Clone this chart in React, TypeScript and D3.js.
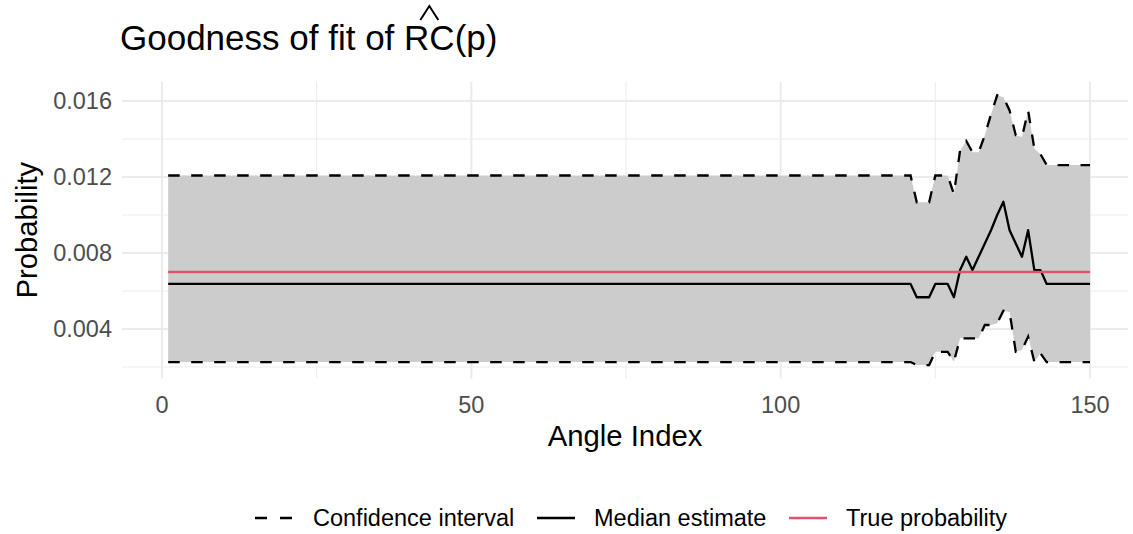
import React from "react";
import * as d3 from "d3";

// ---- Data (index 1..150) ----
const flatCount = 121; // indices 1..121 share the same values
const flatMedian = 0.00637;
const flatUpper = 0.01208;
const flatLower = 0.00226;
const trueProbability = 0.007;

// indices 122..150
const tailMedian = [
  0.00567, 0.00567, 0.00567, 0.00637, 0.00637, 0.00637, 0.00567, 0.0071, 0.0078, 0.0071,
  0.0078, 0.0085, 0.0092, 0.01, 0.0107, 0.0092, 0.0085, 0.0078, 0.0092, 0.0071,
  0.0071, 0.00637, 0.00637, 0.00637, 0.00637, 0.00637, 0.00637, 0.00637, 0.00637,
];
const tailUpper = [
  0.01067, 0.01067, 0.01067, 0.01208, 0.01208, 0.01208, 0.0111, 0.0134, 0.0139, 0.0133,
  0.0133, 0.0142, 0.0153, 0.0163, 0.0162, 0.0155, 0.0142, 0.0141, 0.0155, 0.0135,
  0.0132, 0.01263, 0.01263, 0.01263, 0.01263, 0.01263, 0.01263, 0.01263, 0.01263,
];
const tailLower = [
  0.0021, 0.0021, 0.0021, 0.0028, 0.0028, 0.0028, 0.00228, 0.00351, 0.00351, 0.00351,
  0.00351, 0.00421, 0.00421, 0.0043, 0.00496, 0.0049, 0.0028, 0.0029, 0.0036, 0.00228,
  0.00272, 0.00226, 0.00226, 0.00226, 0.00226, 0.00226, 0.00226, 0.00226, 0.00226,
];

const median = [...new Array(flatCount).fill(flatMedian), ...tailMedian];
const upper = [...new Array(flatCount).fill(flatUpper), ...tailUpper];
const lower = [...new Array(flatCount).fill(flatLower), ...tailLower];
const indices = median.map((_, i) => i + 1);

const xTicks = [0, 50, 100, 150];
const xMinor = [25, 75, 125];
const yTicks = [0.004, 0.008, 0.012, 0.016];
const yMinor = [0.002, 0.006, 0.01, 0.014];
const legendLabels = ["Confidence interval", "Median estimate", "True probability"];

const W = 1133;
const H = 534;
const FONT = "'Liberation Sans', Arial, Helvetica, sans-serif";
const RED = "#DF536B";
const GRID = "#ebebeb";

export default function App() {
  const panelLeft = 122;
  const panelRight = 1128;
  const x = d3.scaleLinear().domain([0, 150]).range([162, 1090]);
  const y = d3.scaleLinear().domain([0.004, 0.016]).range([329, 101]);
  const yMinAll = d3.min(lower)!;
  const yMaxAll = d3.max(upper)!;
  const pad = (yMaxAll - yMinAll) * 0.05;
  const panelTop = y(yMaxAll + pad);
  const panelBottom = y(yMinAll - pad);

  const rows = indices.map((d, i) => ({ i: d, m: median[i], u: upper[i], l: lower[i] }));
  const area = d3
    .area<any>()
    .x((d) => x(d.i))
    .y0((d) => y(d.l))
    .y1((d) => y(d.u));
  const line = (acc: (d: any) => number) =>
    d3
      .line<any>()
      .x((d) => x(d.i))
      .y((d) => y(acc(d)))(rows) as string;

  const dash = "11.5 11.5";
  const lw = 2.3;

  const titleX = 120;
  const titleBase = 50;
  const titleSize = 35;
  const prefix = "Goodness of fit of ";
  // Arial metrics approximation for prefix width
  const prefixW = 8.116 * titleSize;
  const rcW = 1.444 * titleSize;
  const hatCx = titleX + prefixW + rcW / 2;

  const legY = 518;

  return (
    <svg
      width={W}
      height={H}
      style={{ display: "block", background: "#fff", position: "absolute", left: 0, top: 0 }}
      fontFamily={FONT}
    >
      {/* grid */}
      {yMinor.map((v) => (
        <line key={"ym" + v} x1={panelLeft} x2={panelRight} y1={y(v)} y2={y(v)} stroke={GRID} strokeWidth={1} />
      ))}
      {xMinor.map((v) => (
        <line key={"xm" + v} x1={x(v)} x2={x(v)} y1={panelTop} y2={panelBottom} stroke={GRID} strokeWidth={1} />
      ))}
      {yTicks.map((v) => (
        <line key={"yg" + v} x1={panelLeft} x2={panelRight} y1={y(v)} y2={y(v)} stroke={GRID} strokeWidth={2} />
      ))}
      {xTicks.map((v) => (
        <line key={"xg" + v} x1={x(v)} x2={x(v)} y1={panelTop} y2={panelBottom} stroke={GRID} strokeWidth={2} />
      ))}

      {/* ribbon */}
      <path d={area(rows) as string} fill="#cccccc" />
      {/* CI lines */}
      <path d={line((d) => d.u)} fill="none" stroke="#000" strokeWidth={lw} strokeDasharray={dash} />
      <path d={line((d) => d.l)} fill="none" stroke="#000" strokeWidth={lw} strokeDasharray={dash} />
      {/* median */}
      <path d={line((d) => d.m)} fill="none" stroke="#000" strokeWidth={lw} strokeLinejoin="round" />
      {/* true probability */}
      <line x1={x(indices[0])} x2={x(indices[indices.length - 1])} y1={y(trueProbability)} y2={y(trueProbability)} stroke={RED} strokeWidth={lw} />

      {/* y tick labels */}
      {yTicks.map((v) => (
        <text key={"yl" + v} x={112} y={y(v)} dy="0.35em" textAnchor="end" fontSize={23.5} fill="#4d4d4d">
          {d3.format(".3f")(v)}
        </text>
      ))}
      {/* x tick labels */}
      {xTicks.map((v) => (
        <text key={"xl" + v} x={x(v)} y={413} textAnchor="middle" fontSize={23.5} fill="#4d4d4d">
          {v}
        </text>
      ))}

      {/* axis titles */}
      <text x={(panelLeft + panelRight) / 2} y={446} textAnchor="middle" fontSize={29.3} fill="#000">
        Angle Index
      </text>
      <text transform={`translate(37, ${(panelTop + panelBottom) / 2}) rotate(-90)`} textAnchor="middle" fontSize={29.3} fill="#000">
        Probability
      </text>

      {/* title */}
      <text x={titleX} y={titleBase} fontSize={titleSize} fill="#000">
        {prefix}
        <tspan>RC</tspan>
        <tspan>(p)</tspan>
      </text>
      <path
        d={`M${hatCx - 9},${titleBase - 30} L${hatCx},${titleBase - 44} L${hatCx + 9},${titleBase - 30}`}
        fill="none"
        stroke="#000"
        strokeWidth={2}
      />

      {/* legend */}
      <line x1={255} x2={293} y1={legY} y2={legY} stroke="#000" strokeWidth={lw} strokeDasharray="12 13" />
      <text x={313} y={legY} dy="0.35em" fontSize={23.5} fill="#000">{legendLabels[0]}</text>
      <line x1={537} x2={575} y1={legY} y2={legY} stroke="#000" strokeWidth={lw} />
      <text x={594} y={legY} dy="0.35em" fontSize={23.5} fill="#000">{legendLabels[1]}</text>
      <line x1={789} x2={827} y1={legY} y2={legY} stroke={RED} strokeWidth={lw} />
      <text x={846} y={legY} dy="0.35em" fontSize={23.5} fill="#000">{legendLabels[2]}</text>
    </svg>
  );
}
